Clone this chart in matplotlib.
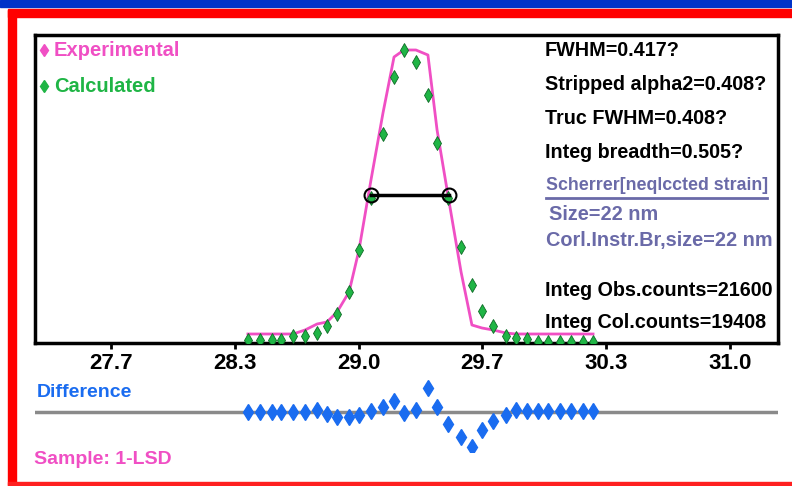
import matplotlib
matplotlib.use("Agg")
import matplotlib.pyplot as plt
from matplotlib.patches import Rectangle
from matplotlib.lines import Line2D

plt.rcParams['font.family'] = ['Liberation Sans', 'DejaVu Sans']
plt.rcParams['font.weight'] = 'bold'

# 2-theta scan grid (deg)
two_theta = [28.419, 28.482, 28.545, 28.593, 28.656, 28.719, 28.782, 28.834,
             28.887, 28.950, 29.002, 29.065, 29.128, 29.186, 29.238, 29.301,
             29.364, 29.412, 29.469, 29.538, 29.595, 29.648, 29.706, 29.774,
             29.826, 29.884, 29.942, 29.994, 30.057, 30.115, 30.178, 30.231]
experimental = [90, 90, 90, 90, 90, 130, 190, 210, 310, 510, 930, 1630,
                2300, 2860, 2930, 2930, 2880, 2130, 1480, 710, 180, 150,
                130, 100, 90, 90, 90, 90, 90, 90, 90, 90]
calculated = [30, 30, 30, 30, 70, 70, 100, 170, 290, 510, 930, 1450,
              2090, 2660, 2930, 2810, 2480, 2000, 1450, 960, 580, 320,
              170, 70, 50, 40, 10, 10, 10, 10, 10, 10]
difference = [0, 0, 0, 0, 0, 0, 20, -20, -50, -50, -30, 10, 50, 110, -10, 20,
              240, 50, -120, -250, -350, -180, -90, -30, 20, 10, 10, 10, 10,
              10, 10, 10]
fwhm_x = [29.065, 29.475]
fwhm_y = [1480, 1480]
tick_pos = [27.70, 28.35, 29.00, 29.65, 30.30, 30.95]
tick_labels = ['27.7', '28.3', '29.0', '29.7', '30.3', '31.0']

W, H = 792, 486
PINK = '#f04fc4'
GREEN = '#1fb545'
BLUE = '#1a6cf0'
SLATE = '#6a6aa8'

fig = plt.figure(figsize=(W / 100, H / 100), dpi=100)
fig.patch.set_facecolor('white')

def fx(px):
    return px / W

def fy(py):
    return 1 - py / H

# frame decoration: blue band and red border
fig.patches.append(Rectangle((0, fy(7.5)), 1, 7.5 / H, transform=fig.transFigure,
                             color='#0033c8', zorder=0))
fig.patches.append(Rectangle((fx(8), fy(17)), 1, 7.5 / H, transform=fig.transFigure,
                             color='#ff0000', zorder=0))
fig.patches.append(Rectangle((fx(8), 0), 7.5 / W, fy(10), transform=fig.transFigure,
                             color='#ff0000', zorder=0))
fig.patches.append(Rectangle((fx(8), fy(484.5)), 1, 2.5 / H, transform=fig.transFigure,
                             color='#ff2020', zorder=0))

# main pattern
ax = fig.add_axes([fx(35), fy(343), (778 - 35) / W, (343 - 35) / H])
ax.plot(two_theta, experimental, color=PINK, lw=2, zorder=2)
ax.plot(two_theta, calculated, ls='none', marker='d', ms=7.5, color=GREEN,
        mec='#0d6b25', mew=0.6, zorder=3)
ax.plot(fwhm_x, fwhm_y, color='black', lw=2.5, marker='o', ms=10,
        mfc='none', mec='black', mew=1.5, zorder=4)
ax.set_xlim(27.301, 31.202)
ax.set_ylim(0, 3080)
ax.set_xticks(tick_pos)
ax.set_xticklabels(tick_labels, fontsize=16, fontweight='bold')
ax.set_yticks([])
ax.tick_params(axis='x', direction='out', length=4, width=2, pad=3)
for s in ax.spines.values():
    s.set_linewidth(2.5)

# difference curve
ax2 = fig.add_axes([fx(35), fy(452), (778 - 35) / W, 80 / H])
ax2.axhline(0, color='#8a8a8a', lw=2.5, xmax=(776 - 35) / (778 - 35), zorder=1)
ax2.plot(two_theta, difference, ls='none', marker='d', ms=8, color=BLUE, zorder=2)
ax2.set_xlim(27.301, 31.202)
ax2.set_ylim(-400, 400)
ax2.axis('off')

# legend-like labels
fig.add_artist(Line2D([fx(44)], [fy(50)], marker='d', ms=6, color=PINK, ls='none'))
fig.add_artist(Line2D([fx(44)], [fy(86)], marker='d', ms=6, color=GREEN, ls='none'))
fig.text(fx(54), fy(50), 'Experimental', color=PINK, fontsize=14.5, va='center')
fig.text(fx(54), fy(86), 'Calculated', color=GREEN, fontsize=14.5, va='center')

# results text
right_lines = [
    ('FWHM=0.417?', 50),
    ('Stripped alpha2=0.408?', 84),
    ('Truc FWHM=0.408?', 118),
    ('Integ breadth=0.505?', 152),
    ('Integ Obs.counts=21600', 290),
    ('Integ Col.counts=19408', 322),
]
for txt, py in right_lines:
    fig.text(fx(545), fy(py), txt, color='black', fontsize=14.2, va='center')

fig.text(fx(546), fy(186), 'Scherrer[neqlccted strain]', color=SLATE, fontsize=12.8, va='center')
fig.add_artist(Line2D([fx(546), fx(767)], [fy(198), fy(198)], color=SLATE, lw=2))
fig.text(fx(549), fy(214), 'Size=22 nm', color=SLATE, fontsize=14.3, va='center')
fig.text(fx(546), fy(240), 'Corl.Instr.Br,size=22 nm', color=SLATE, fontsize=14.3, va='center')

fig.text(fx(37), fy(392), 'Difference', color=BLUE, fontsize=14, va='center')
fig.text(fx(34), fy(459), 'Sample: 1-LSD', color=PINK, fontsize=14, va='center')

fig.savefig('out.png', dpi=100)
